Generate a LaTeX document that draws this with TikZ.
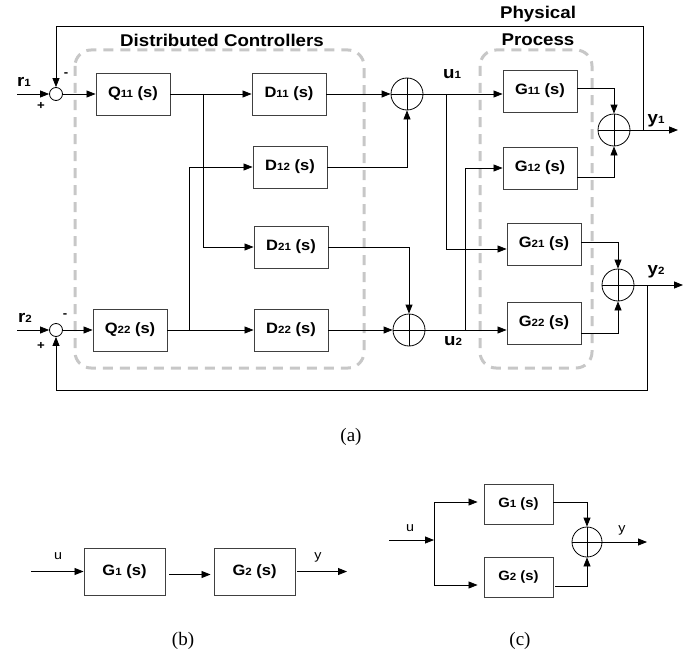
\documentclass[tikz,border=0pt]{standalone}
\usepackage{fontspec}
\setmainfont[FakeStretch=1.1]{Liberation Sans}
\newfontfamily\seriffont{Liberation Serif}
\usetikzlibrary{arrows.meta}
\newcommand{\sd}[1]{{\fontsize{10.5}{10.5}\selectfont #1}}
\begin{document}
\begin{tikzpicture}[x=1pt,y=-1pt,
  blk/.style={draw=black!75, line width=0.9pt, minimum width=74pt, minimum height=42pt, inner sep=0pt, font=\bfseries\fontsize{15}{15}\selectfont},
  blkb/.style={blk, minimum width=81pt, minimum height=47pt},
  blkc/.style={blk, minimum width=69pt, minimum height=40pt, font=\bfseries\fontsize{13.5}{13.5}\selectfont},
  sumc/.style={circle, draw, line width=0.8pt, minimum size=32pt, inner sep=0pt,
    path picture={\draw[line width=0.8pt] (path picture bounding box.north) -- (path picture bounding box.south)
      (path picture bounding box.west) -- (path picture bounding box.east);}},
  smc/.style={circle, draw, line width=0.8pt, minimum size=13pt, inner sep=0pt},
  arr/.style={-{Triangle[length=9pt,width=7pt]}, line width=0.8pt},
  grp/.style={draw=black!22, line width=3pt, dash pattern=on 10pt off 7pt, rounded corners=16pt},
  lbl/.style={font=\bfseries\fontsize{17}{17}\selectfont, inner sep=0pt},
  pm/.style={font=\bfseries\fontsize{12}{12}\selectfont, inner sep=0pt},
  sl/.style={font=\fontsize{13}{13}\selectfont, inner sep=0pt},
  capt/.style={font=\seriffont\fontsize{19}{19}\selectfont, inner sep=0pt}
]
\useasboundingbox (0,0) rectangle (700,658);

% groups
\draw[grp] (75,50) rectangle (364,368);
\draw[grp] (480,50) rectangle (592,368);
\node[lbl] (tDC) at (222,40) {Distributed Controllers};
\node[lbl] (tPh) at (538,14) {Physical};
\node[lbl] (tPr) at (538,40) {Process};

% nodes (a)
\node[smc] (c1) at (56,94) {};
\node[smc] (c2) at (56,330) {};
\node[blk] (Q11) at (133,94) {Q\sd{11} (s)};
\node[blk] (Q22) at (130,330) {Q\sd{22} (s)};
\node[blk] (D11) at (289,94) {D\sd{11} (s)};
\node[blk] (D12) at (290,167) {D\sd{12} (s)};
\node[blk] (D21) at (291,247) {D\sd{21} (s)};
\node[blk] (D22) at (291,330) {D\sd{22} (s)};
\node[sumc] (sA) at (407,94) {};
\node[sumc] (sB) at (409,330) {};
\node[blk] (G11) at (540,91) {G\sd{11} (s)};
\node[blk] (G12) at (540,168) {G\sd{12} (s)};
\node[blk] (G21) at (544,244) {G\sd{21} (s)};
\node[blk] (G22) at (544,323) {G\sd{22} (s)};
\node[sumc] (sY1) at (614,130) {};
\node[sumc] (sY2) at (618,285) {};

\coordinate (r1in) at (17,94);
\coordinate (r2in) at (17,330);
\coordinate (y1out) at (678,130);
\coordinate (y2out) at (683,285);
\coordinate (b1) at (203,94);
\coordinate (b2) at (189,330);
\coordinate (b3) at (446,94);
\coordinate (b4) at (465,330);
\coordinate (f1) at (643,130);
\coordinate (ftop) at (643,26);
\coordinate (f2) at (647,285);
\coordinate (fbot) at (647,390);

% connectors (a)
\draw[arr] (r1in) -- (c1.west);
\draw[arr] (r2in) -- (c2.west);
\draw[arr] (c1.east) -- (Q11.west);
\draw[arr] (c2.east) -- (Q22.west);
\draw[arr] (Q11.east) -- (D11.west);
\draw[arr] (b1) |- (D21.west);
\draw[arr] (Q22.east) -- (D22.west);
\draw[arr] (b2) |- (D12.west);
\draw[arr] (D11.east) -- (sA.west);
\draw[arr] (D12.east) -| (sA.south);
\draw[arr] (D21.east) -| (sB.north);
\draw[arr] (D22.east) -- (sB.west);
\draw[arr] (sA.east) -- (sA.east -| G11.west);
\draw[arr] (b3) |- ([yshift=-5pt]G21.west);
\draw[arr] (b4) |- (G12.west);
\draw[arr] (sB.east) -- (sB.east -| G22.west);
\draw[arr] ([yshift=3pt]G11.east) -| (sY1.north);
\draw[arr] ([yshift=-9pt]G12.east) -| (sY1.south);
\draw[arr] ([yshift=2pt]G21.east) -| (sY2.north);
\draw[arr] ([yshift=-10pt]G22.east) -| (sY2.south);
\draw[arr] (sY1.east) -- (y1out);
\draw[arr] (sY2.east) -- (y2out);
\draw[arr] (f1) -- (ftop) -| (c1.north);
\draw[arr] (f2) -- (fbot) -| (c2.south);

% labels (a)
\node[lbl] (lr1) at (24,82) {r\sd{1}};
\node[lbl] (lr2) at (25,318) {r\sd{2}};
\node[pm] (p1) at (41,106) {+};
\node[pm] (m1) at (66,75) {-};
\node[pm] (p2) at (41,346) {+};
\node[pm] (m2) at (65,316) {-};
\node[lbl] (lu1) at (452,74) {u\sd{1}};
\node[lbl] (lu2) at (453,341) {u\sd{2}};
\node[lbl] (ly1) at (656,121) {y\sd{1}};
\node[lbl] (ly2) at (656,272) {y\sd{2}};
\node[capt] (ca) at (351,437) {(a)};

% (b)
\node[blkb] (bG1) at (124.5,571.5) {G\sd{1} (s)};
\node[blkb] (bG2) at (254.5,571.5) {G\sd{2} (s)};
\coordinate (bu) at (31,571.5);
\coordinate (by) at (347,571.5);
\draw[arr] (bu) -- (bu -| bG1.west);
\draw[arr] ([xshift=4pt,yshift=-3pt]bG1.east) -- ([xshift=-3pt,yshift=-3pt]bG2.west);
\draw[arr] ([xshift=2pt]bG2.east) -- (by);
\node[sl] (bul) at (58,556) {u};
\node[sl] (byl) at (318,557) {y};
\node[capt] (cb) at (183,641) {(b)};

% (c)
\node[blkc] (cG1) at (518.5,504) {G\sd{1} (s)};
\node[blkc] (cG2) at (518.5,577) {G\sd{2} (s)};
\node[sumc, minimum size=30pt] (cS) at (587,542) {};
\coordinate (cu) at (389,540);
\coordinate (csp) at (434,540);
\coordinate (cy) at (647,542);
\draw[arr] (cu) -- (csp);
\draw[line width=0.8pt] ([yshift=2pt]csp |- cG1.west) -- ([yshift=-8pt]csp |- cG2.west);
\draw[arr] ([yshift=2pt]csp |- cG1.west) -- ([xshift=-6pt,yshift=2pt]cG1.west);
\draw[arr] ([yshift=-8pt]csp |- cG2.west) -- ([xshift=-6pt,yshift=-8pt]cG2.west);
\draw[arr] ([yshift=2pt]cG1.east) -| (cS.north);
\draw[arr] ([xshift=2pt,yshift=-9pt]cG2.east) -| (cS.south);
\draw[arr] (cS.east) -- (cy);
\node[sl] (cul) at (410,528) {u};
\node[sl] (cyl) at (622,530) {y};
\node[capt] (cc) at (520,641) {(c)};
\end{tikzpicture}
\end{document}
